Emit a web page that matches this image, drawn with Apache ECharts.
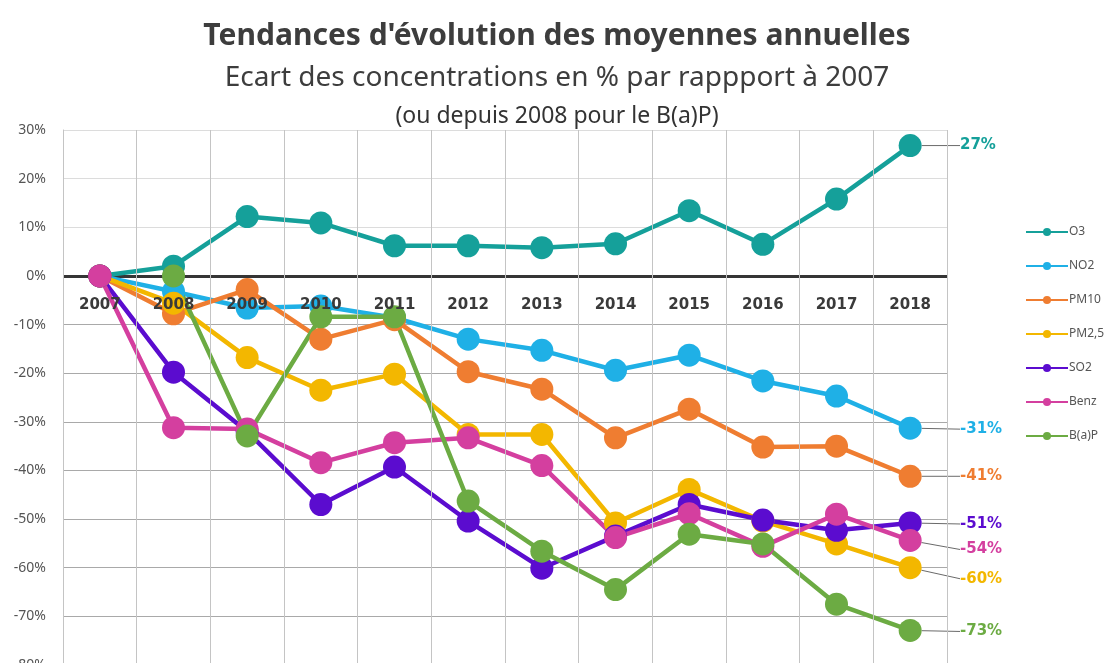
<!DOCTYPE html>
<html>
<head>
<meta charset="utf-8">
<title>Tendances d'évolution des moyennes annuelles</title>
<script src="https://cdn.jsdelivr.net/npm/echarts@6/dist/echarts.min.js"></script>
<style>
  html, body { margin: 0; padding: 0; background: #ffffff; }
  #chart { width: 1114px; height: 663px; }
</style>
</head>
<body>
<div id="chart"></div>
<script>
// Années (axe des catégories)
const years = ['2007', '2008', '2009', '2010', '2011', '2012', '2013', '2014', '2015', '2016', '2017', '2018'];

// Écart des moyennes annuelles en % par rapport à 2007 (2008 pour le B(a)P)
const o3   = [0, 2.0, 12.2, 10.9, 6.2, 6.2, 5.8, 6.6, 13.4, 6.5, 15.8, 26.8];
const no2  = [0, -3.2, -6.6, -6.2, -8.6, -13.0, -15.3, -19.4, -16.3, -21.6, -24.7, -31.3];
const pm10 = [0, -7.8, -2.8, -13.0, -9.0, -19.7, -23.3, -33.3, -27.4, -35.2, -35.0, -41.2];
const pm25 = [0, -5.6, -16.8, -23.5, -20.2, -32.6, -32.6, -50.8, -43.9, -50.4, -55.1, -60.0];
const so2  = [0, -19.8, -32.0, -47.0, -39.3, -50.4, -60.1, -53.5, -47.0, -50.2, -52.3, -50.8];
const benz = [0, -31.2, -31.5, -38.4, -34.3, -33.3, -39.0, -53.8, -48.9, -55.6, -49.0, -54.4];
const bap  = [null, 0, -32.9, -8.4, -8.4, -46.3, -56.6, -64.5, -53.1, -55.1, -67.5, -72.9];

// Graduations de l'axe vertical (%)
const yMin = -80;
const yMax = 30;
const yStep = 10;

// Décalage vertical (px) de l'étiquette finale de chaque courbe
const seriesDefs = [
  { name: 'O3',    data: o3,   color: '#15a09a', labelDy: 0 },
  { name: 'NO2',   data: no2,  color: '#1fb0e6', labelDy: 1 },
  { name: 'PM10',  data: pm10, color: '#ef7d31', labelDy: 0 },
  { name: 'PM2,5', data: pm25, color: '#f3b700', labelDy: 11 },
  { name: 'SO2',   data: so2,  color: '#5b0ccf', labelDy: 1 },
  { name: 'Benz',  data: benz, color: '#d43f9f', labelDy: 9 },
  { name: 'B(a)P', data: bap,  color: '#6cab43', labelDy: 1 }
];

// Zone de tracé
const gridTop = 130;
const gridBottom = -2;
const chartHeight = 663;
const plotHeight = chartHeight - gridTop - gridBottom;
// Distance entre le bas de la zone de tracé et la ligne du 0 %
const zeroFromBottom = plotHeight * (0 - yMin) / (yMax - yMin);

// Couleurs du quadrillage horizontal (de -80 % à 30 %)
const hGridColors = ['#a9a9a9', '#a9a9a9', '#a9a9a9', '#a9a9a9', '#a9a9a9', '#a9a9a9',
                     '#a9a9a9', '#a9a9a9', '#a9a9a9', '#dcdcdc', '#dcdcdc', '#dcdcdc'];
// Ligne du zéro, épaisse et sombre (index 8 = 0 %)
const zeroLineColors = hGridColors.map(function (c, i) {
  return i === 8 ? '#353535' : 'rgba(0,0,0,0)';
});

const chart = echarts.init(document.getElementById('chart'), null, { renderer: 'canvas' });

const series = seriesDefs.map(function (s) {
  const last = s.data.length - 1;
  const data = s.data.map(function (v, i) {
    if (i !== last) return v;
    return {
      value: v,
      label: {
        show: true,
        position: 'right',
        formatter: function (p) { return Math.round(p.value) + '%'; },
        color: s.color,
        fontFamily: 'DejaVu Sans',
        fontWeight: 'bold',
        fontSize: 15
      }
    };
  });
  return {
    name: s.name,
    type: 'line',
    xAxisIndex: 0,
    yAxisIndex: 0,
    data: data,
    connectNulls: false,
    symbol: 'circle',
    symbolSize: 23,
    showSymbol: true,
    color: s.color,
    lineStyle: { width: 4.5, color: s.color },
    itemStyle: { color: s.color },
    label: { show: false },
    labelLine: { show: true, lineStyle: { color: '#6a6a6a', width: 1 } },
    labelLayout: function (params) {
      const cy = params.rect.y + params.rect.height / 2;
      return { x: 960, y: cy + s.labelDy, align: 'left', verticalAlign: 'middle' };
    },
    emphasis: { disabled: true },
    animation: false
  };
});

chart.setOption({
  backgroundColor: '#ffffff',
  animation: false,
  title: [
    {
      text: "Tendances d'évolution des moyennes annuelles",
      left: 'center',
      top: 16,
      textStyle: { fontFamily: 'Noto Sans', fontWeight: 'bold', fontSize: 30, color: '#3d3d3d' }
    },
    {
      text: 'Ecart des concentrations en % par rappport à 2007',
      left: 'center',
      top: 59,
      textStyle: { fontFamily: 'Noto Sans', fontWeight: 'normal', fontSize: 28, color: '#3d3d3d' }
    },
    {
      text: '(ou depuis 2008 pour le B(a)P)',
      left: 'center',
      top: 100,
      textStyle: { fontFamily: 'Noto Sans', fontWeight: 'normal', fontSize: 23, color: '#333333' }
    }
  ],
  legend: {
    orient: 'vertical',
    left: 1020,
    top: 221,
    itemWidth: 42,
    itemHeight: 10,
    itemGap: 22,
    data: seriesDefs.map(function (s) { return s.name; }),
    textStyle: { fontFamily: 'Noto Sans', fontSize: 12, color: '#555555', padding: [0, 0, 0, -4] },
    selectedMode: false
  },
  grid: {
    left: 63, right: 167, top: gridTop, bottom: gridBottom,
    containLabel: false,
    outerBoundsMode: 'none'
  },
  xAxis: {
    type: 'category',
    data: years,
    boundaryGap: true,
    position: 'bottom',
    // libellés des années placés juste sous la ligne du 0 %
    offset: -zeroFromBottom,
    z: 20,
    axisLine: { show: false, onZero: false },
    axisTick: { show: false },
    axisLabel: {
      show: true,
      interval: 0,
      margin: 22,
      fontFamily: 'DejaVu Sans',
      fontWeight: 'bold',
      fontSize: 15,
      color: '#3a3a3a'
    },
    splitLine: { show: true, lineStyle: { color: '#c4c4c4', width: 1 } }
  },
  yAxis: [
    {
      type: 'value',
      min: yMin,
      max: yMax,
      interval: yStep,
      axisLine: { show: true, onZero: false, lineStyle: { color: '#bdbdbd', width: 1 } },
      axisTick: { show: false },
      axisLabel: {
        formatter: '{value}%',
        margin: 17,
        fontFamily: 'Noto Sans',
        fontSize: 14,
        color: '#555555'
      },
      splitLine: { show: true, lineStyle: { color: hGridColors, width: 1 } }
    },
    {
      // même échelle : trace uniquement la ligne du zéro
      type: 'value',
      min: yMin,
      max: yMax,
      interval: yStep,
      position: 'left',
      axisLine: { show: false, onZero: false },
      axisTick: { show: false },
      axisLabel: { show: false },
      splitLine: { show: true, lineStyle: { color: zeroLineColors, width: 3 } }
    }
  ],
  series: series
});
</script>
</body>
</html>
